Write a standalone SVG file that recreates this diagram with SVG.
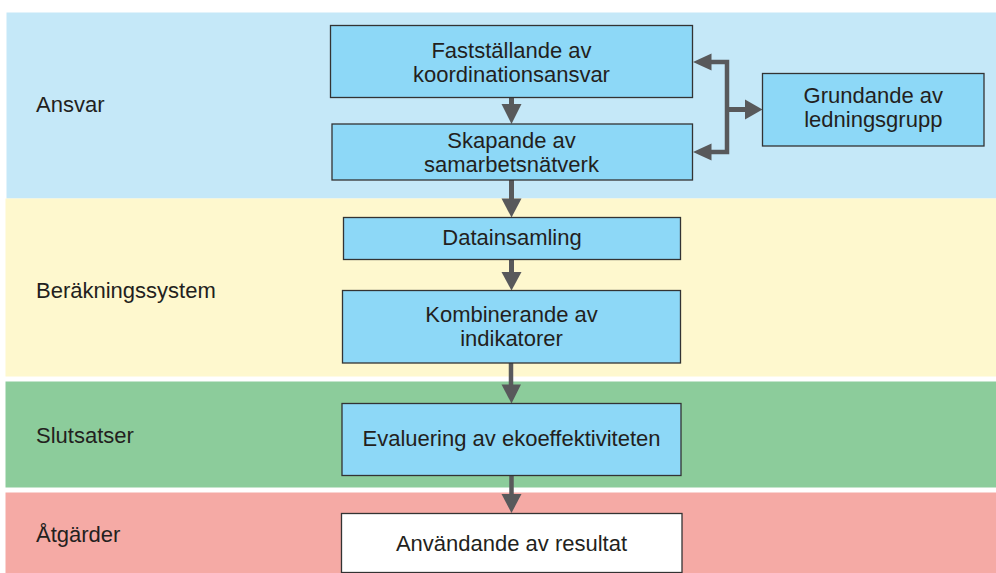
<svg xmlns="http://www.w3.org/2000/svg" width="996" height="573" viewBox="0 0 996 573">
  <style>
    .band-label { font-family: "Liberation Sans", Arial, sans-serif; font-size: 22px; fill: #231f20; }
    .node rect { fill: #8dd8f7; stroke: #333333; stroke-width: 1.3; }
    .node text { font-family: "Liberation Sans", Arial, sans-serif; font-size: 22px; fill: #231f20; text-anchor: middle; }
    .node.plain rect { fill: #ffffff; }
    .wire { stroke: #58595b; stroke-width: 5; fill: none; }
    .head { fill: #58595b; }
  </style>

  <rect width="996" height="573" fill="#ffffff"/>

  <!-- Swimlane bands -->
  <g id="bands">
    <rect x="6.5" y="12.5" width="989.5" height="186" fill="#c5e8f8"/>
    <rect x="5.5" y="198.5" width="990.5" height="178" fill="#fef8ce"/>
    <rect x="5.5" y="381.5" width="990.5" height="106" fill="#8ccc9b"/>
    <rect x="5.5" y="492.5" width="990.5" height="80.5" fill="#f5aaa5"/>
    <text class="band-label" x="36" y="112">Ansvar</text>
    <text class="band-label" x="36" y="298">Beräkningssystem</text>
    <text class="band-label" x="36" y="443">Slutsatser</text>
    <text class="band-label" x="36" y="542">Åtgärder</text>
  </g>

  <!-- Connectors -->
  <g id="connectors">
    <line class="wire" x1="511.5" y1="97" x2="511.5" y2="106"/>
    <polygon class="head" points="501.5,104 521.5,104 511.5,124"/>

    <line class="wire" x1="511.5" y1="180" x2="511.5" y2="200"/>
    <polygon class="head" points="501.5,198.5 521.5,198.5 511.5,217.5"/>

    <line class="wire" x1="511.5" y1="260" x2="511.5" y2="274"/>
    <polygon class="head" points="501.5,272 521.5,272 511.5,290.5"/>

    <line class="wire" x1="511" y1="363" x2="511" y2="386" style="stroke-width:4.5"/>
    <polygon class="head" points="501.5,384.5 521,384.5 511.5,403.5"/>

    <line class="wire" x1="511.5" y1="476" x2="511.5" y2="496" style="stroke-width:4.5"/>
    <polygon class="head" points="501.5,494 521.5,494 511.5,513"/>

    <!-- bracket from Grundande to both upper boxes -->
    <polyline class="wire" points="710,62 727,62 727,152 710,152" style="stroke-width:4.5"/>
    <line class="wire" x1="727" y1="109.5" x2="747" y2="109.5"/>
    <polygon class="head" points="711.5,53.5 711.5,70.5 693,62"/>
    <polygon class="head" points="711.5,143.5 711.5,160.5 693,152"/>
    <polygon class="head" points="745,99.5 745,119.5 762.5,109.5"/>
  </g>

  <!-- Nodes -->
  <g id="node-faststallande" class="node">
    <rect x="330.5" y="25.5" width="362" height="72"/>
    <text x="511.5" y="57.5">Fastställande av</text>
    <text x="511.5" y="81.5">koordinationsansvar</text>
  </g>
  <g id="node-skapande" class="node">
    <rect x="332" y="124" width="360.5" height="56"/>
    <text x="511.5" y="148">Skapande av</text>
    <text x="511.5" y="172">samarbetsnätverk</text>
  </g>
  <g id="node-grundande" class="node">
    <rect x="762.5" y="73.5" width="221.5" height="72.5"/>
    <text x="873.3" y="103.3">Grundande av</text>
    <text x="873.3" y="127.3">ledningsgrupp</text>
  </g>
  <g id="node-datainsamling" class="node">
    <rect x="343.5" y="217.5" width="337" height="42"/>
    <text x="512" y="245">Datainsamling</text>
  </g>
  <g id="node-kombinerande" class="node">
    <rect x="342.5" y="290.5" width="338" height="72.5"/>
    <text x="511.5" y="321.5">Kombinerande av</text>
    <text x="511.5" y="346">indikatorer</text>
  </g>
  <g id="node-evaluering" class="node">
    <rect x="342" y="403.5" width="339" height="72"/>
    <text x="511.5" y="446">Evaluering av ekoeffektiviteten</text>
  </g>
  <g id="node-anvandande" class="node plain">
    <rect x="341.5" y="513.5" width="340.5" height="59"/>
    <text x="511.5" y="551">Användande av resultat</text>
  </g>
</svg>
